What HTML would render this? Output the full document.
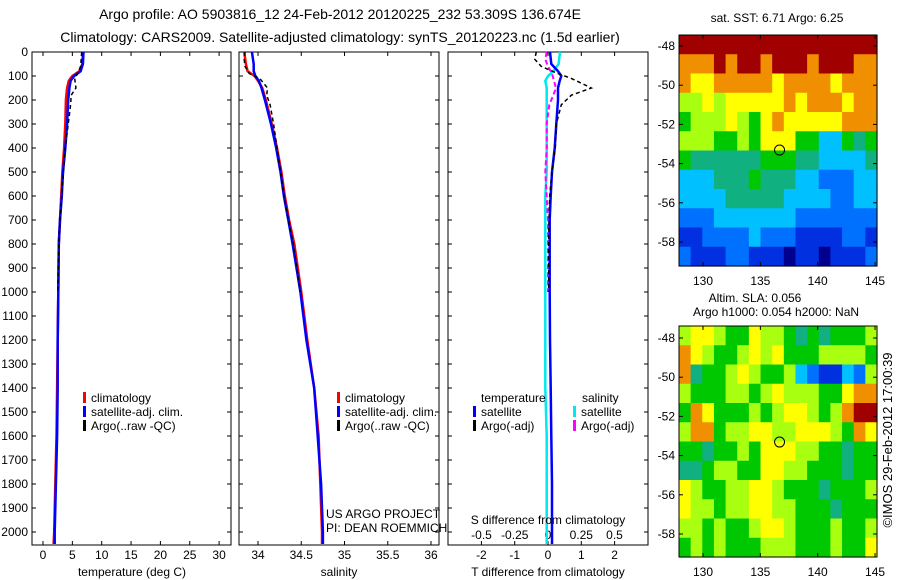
<!DOCTYPE html>
<html><head><meta charset="utf-8">
<style>
html,body{margin:0;padding:0;background:#fff;}
svg{display:block;font-family:"Liberation Sans",sans-serif;}
</style></head>
<body>
<svg id="chart" width="900" height="580" viewBox="0 0 900 580">
<rect width="900" height="580" fill="#fff"/>
<text x="340" y="19" font-size="14" text-anchor="middle">Argo profile: AO 5903816_12 24-Feb-2012 20120225_232 53.309S 136.674E</text>
<text x="340" y="42" font-size="14" text-anchor="middle">Climatology: CARS2009. Satellite-adjusted climatology: synTS_20120223.nc (1.5d earlier)</text>
<g id="g"></g>
<text transform="translate(892,440) rotate(-90)" font-size="13" text-anchor="middle">©IMOS 29-Feb-2012 17:00:39</text>
</svg>
<script>
// ---------- data ----------
const depthTicks = [0,100,200,300,400,500,600,700,800,900,1000,1100,1200,1300,1400,1500,1600,1700,1800,1900,2000];
const tempTicks = [0,5,10,15,20,25,30];
const salTicks = [34,34.5,35,35.5,36];
const salTickLabels = ["34","34.5","35","35.5","36"];
const tdiffTicks = [-2,-1,0,1,2];
const sdiffTicks = [-0.5,-0.25,0,0.25,0.5];
const sdiffTickLabels = ["-0.5","-0.25","0","0.25","0.5"];

const profDepth = [0,50,80,100,120,150,200,300,400,500,600,700,800,1000,1200,1400,1600,1800,2000,2050];
const tempClim = [6.8,6.7,6.2,5.0,4.4,4.1,3.9,3.8,3.6,3.3,3.1,2.9,2.7,2.6,2.5,2.4,2.3,2.1,1.9,1.8];
const tempSat  = [6.9,6.8,6.4,5.3,4.7,4.5,4.3,4.1,3.8,3.4,3.2,2.9,2.7,2.6,2.5,2.5,2.4,2.2,2.0,2.0];
const argoDepth = [0,30,60,90,110,150,180,220,300,400,500,600,700,800,1000];
const tempArgo  = [6.6,6.5,6.4,5.9,5.4,5.6,4.8,4.7,4.3,3.8,3.5,3.2,2.9,2.7,2.5];
const salClim = [33.84,33.86,33.88,33.96,34.0,34.05,34.09,34.16,34.22,34.27,34.31,34.36,34.42,34.5,34.57,34.65,34.7,34.72,34.74,34.74];
const salSat  = [33.93,33.95,33.95,33.97,34.01,34.04,34.08,34.15,34.21,34.26,34.3,34.35,34.4,34.49,34.56,34.65,34.69,34.73,34.75,34.75];
const salArgo = [33.85,33.84,33.85,33.9,34.02,34.11,34.1,34.14,34.18,34.22,34.26,34.3,34.35,34.41,34.49];
const tdiffSat  = [0.06,0.1,0.3,0.4,0.35,0.3,0.3,0.25,0.2,0.12,0.08,0.05,0.05,0.05,0.06,0.08,0.1,0.12,0.12,0.12];
const sdiffSat  = [0.09,0.08,0.04,0,-0.02,-0.01,-0.01,-0.01,-0.01,-0.01,-0.02,-0.02,-0.02,-0.02,-0.02,-0.02,-0.01,-0.01,-0.01,-0.01];
const tdiffArgo = [-0.35,-0.4,-0.2,0.3,0.7,1.3,0.7,0.4,0.25,0.22,0.12,0.05,0.03,0.02,0.02];
const sdiffArgo = [-0.01,-0.02,0.0,0.03,0.04,0.06,0.04,0.01,-0.01,-0.01,-0.02,-0.01,0,0,0];

const lonTicks = [130,135,140,145];
const latTicks = [-48,-50,-52,-54,-56,-58];
const argoLon = 136.674, argoLat = -53.309;
const sstGrid = [
"99999999999999999",
"88898998999899988",
"87788888788887888",
"66767777787888788",
"56667657877777888",
"66655657775533545",
"54444445554433334",
"33344454443322233",
"33334444433332233",
"22233333332222222",
"11222232221111221",
"21112211101101112"];
const slaGrid = [
"67765576654545556",
"87655676755566665",
"84556765563211326",
"65556656766655788",
"58755565677656899",
"68856677667776587",
"55455657776655455",
"44566557766555455",
"76556677655545556",
"76656677665554555",
"66565567765556556",
"56565556665556557"];
const palette = ["#00008f","#0030e0","#0070ff","#00c0ff","#10b080","#00c800","#a8ff10","#ffff00","#f09000","#a00000"];

// ---------- helpers ----------
const NS="http://www.w3.org/2000/svg";
const G=document.getElementById('g');
function mk(tag,attrs,parent){const e=document.createElementNS(NS,tag);for(const k in attrs)e.setAttribute(k,attrs[k]);(parent||G).appendChild(e);return e;}
function txt(x,y,s,anchor,size,parent){const t=mk('text',{x:x,y:y,'font-size':size||12,'text-anchor':anchor||'start'},parent);t.textContent=s;return t;}
const yD = d => 52 + d*0.24;
const PT=52, PB=545;

function panel(name,x0,x1){
  const r=mk('rect',{x:x0,y:PT,width:x1-x0,height:PB-PT,fill:'none',stroke:'#000','stroke-width':1});
  
  
  depthTicks.forEach(d=>{mk('line',{x1:x0,x2:x0+4,y1:yD(d),y2:yD(d),stroke:'#000'});mk('line',{x1:x1,x2:x1-4,y1:yD(d),y2:yD(d),stroke:'#000'});});
}
function xticks(xs,labels,fx,y,top){
  xs.forEach((v,i)=>{const x=fx(v);mk('line',{x1:x,x2:x,y1:PB,y2:PB-4,stroke:'#000'});if(top)mk('line',{x1:x,x2:x,y1:PT,y2:PT+4,stroke:'#000'});
    const t=txt(x,y,labels[i],'middle',12);
    
    });
}
function line(xs,ds,fx,color,dash,w,name){
  const pts=xs.map((v,i)=>fx(v).toFixed(1)+','+yD(ds[i]).toFixed(1)).join(' ');
  const p=mk('polyline',{points:pts,fill:'none',stroke:color,'stroke-width':w||2});
  if(dash)p.setAttribute('stroke-dasharray',dash);
  
  
}
function legendEntry(x,y,color,label){
  mk('rect',{x:x,y:y-10,width:3,height:11,fill:color});
  const t=txt(x+8,y,label,'start',12);
  
  
}

// depth labels
depthTicks.forEach(d=>{const t=txt(28,yD(d)+4,String(d),'end',12);
  
  });

// panel 1: temperature
const fT = v => 43 + v*5.87;
panel('temperature-panel',32,231);
xticks(tempTicks,tempTicks.map(String),fT,559,true);
line(tempClim,profDepth,fT,'#f00',null,2.5,'temp-climatology-line');
line(tempSat,profDepth,fT,'#00f',null,2.5,'temp-satellite-line');
line(tempArgo,argoDepth,fT,'#000','4,3',1.5,'temp-argo-line');
let t1=txt(132,576,'temperature (deg C)','middle',12);


legendEntry(83,402,'#f00','climatology');
legendEntry(83,416,'#00f','satellite-adj. clim.');
legendEntry(83,430,'#000','Argo(..raw -QC)');

// panel 2: salinity
const fS = v => 258 + (v-34)*86.5;
panel('salinity-panel',239,439);
xticks(salTicks,salTickLabels,fS,559,true);
line(salClim,profDepth,fS,'#f00',null,2.5,'sal-climatology-line');
line(salSat,profDepth,fS,'#00f',null,2.5,'sal-satellite-line');
line(salArgo,argoDepth,fS,'#000','4,3',1.5,'sal-argo-line');
let t2=txt(339,576,'salinity','middle',12);


legendEntry(337,402,'#f00','climatology');
legendEntry(337,416,'#00f','satellite-adj. clim.');
legendEntry(337,430,'#000','Argo(..raw -QC)');
let u1=txt(326,518,'US ARGO PROJECT','start',12);


let u2=txt(326,532,'PI: DEAN ROEMMICH','start',12);



// panel 3: differences
const fTd = v => 548 + v*33.3;
const fSd = v => 548 + v*133;
panel('difference-panel',448,648);
xticks(tdiffTicks,tdiffTicks.map(String),fTd,559,true);
sdiffTickLabels.forEach((s,i)=>{const t=txt(fSd(sdiffTicks[i]),539,s,'middle',12);
  
  });
line(sdiffSat,profDepth,fSd,'#00e8f0',null,2.5,'sdiff-satellite-line');
line(sdiffArgo,argoDepth,fSd,'#f0f','5,3',2,'sdiff-argo-line');
line(tdiffSat,profDepth,fTd,'#00f',null,2.5,'tdiff-satellite-line');
line(tdiffArgo,argoDepth,fTd,'#000','4,3',1.5,'tdiff-argo-line');
let t3=txt(548,524,'S difference from climatology','middle',12);


let t4=txt(548,576,'T difference from climatology','middle',12);


let l1=txt(481,402,'temperature','start',12);


let l2=txt(582,402,'salinity','start',12);


legendEntry(473,416,'#00f','satellite');
legendEntry(473,430,'#000','Argo(-adj)');
legendEntry(573,416,'#00e8f0','satellite');
legendEntry(573,430,'#f0f','Argo(-adj)');

// maps
const mx0=679, mx1=877, lonA=130, xA=703, pxLon=11.47;
const fLon = v => xA + (v-lonA)*pxLon;
function map(name,grid,top,bottom,y48,title1,title2){
  const pxLat=19.6;
  const fLat = v => y48 + (-48 - v)*pxLat;
  const rows=grid.length, cols=grid[0].length;
  const cw=(mx1-mx0)/cols, ch=(bottom-top)/rows;
  const g=mk('g',{});
  
  
  grid.forEach((row,r)=>{for(let c=0;c<cols;c++){
    const cell=mk('rect',{x:(mx0+c*cw).toFixed(2),y:(top+r*ch).toFixed(2),width:(cw+0.6).toFixed(2),height:(ch+0.6).toFixed(2),fill:palette[+row[c]]},g);
    
    
  }});
  mk('rect',{x:mx0,y:top,width:mx1-mx0,height:bottom-top,fill:'none',stroke:'#000'});
  latTicks.forEach(v=>{const y=fLat(v);mk('line',{x1:mx0,x2:mx0+4,y1:y,y2:y,stroke:'#000'});mk('line',{x1:mx1,x2:mx1-4,y1:y,y2:y,stroke:'#000'});
    const t=txt(675,y+4,String(v),'end',12);
    
    });
  lonTicks.forEach(v=>{const x=fLon(v);mk('line',{x1:x,x2:x,y1:top,y2:top+4,stroke:'#000'});mk('line',{x1:x,x2:x,y1:bottom,y2:bottom-4,stroke:'#000'});
    const t=txt(x,bottom+19,String(v),'middle',12);
    
    });
  const c=mk('circle',{cx:fLon(argoLon),cy:fLat(argoLat),r:5,fill:'none',stroke:'#000'});
  
  
}
map('sst-map',sstGrid,35,266,46);
map('sla-map',slaGrid,326,557,338);
let m1=txt(777,22,'sat. SST: 6.71 Argo: 6.25','middle',12);


let m2=txt(755,302,'Altim. SLA: 0.056','middle',12);


let m3=txt(776,316,'Argo h1000: 0.054 h2000: NaN','middle',12);


</script>
</body></html>
